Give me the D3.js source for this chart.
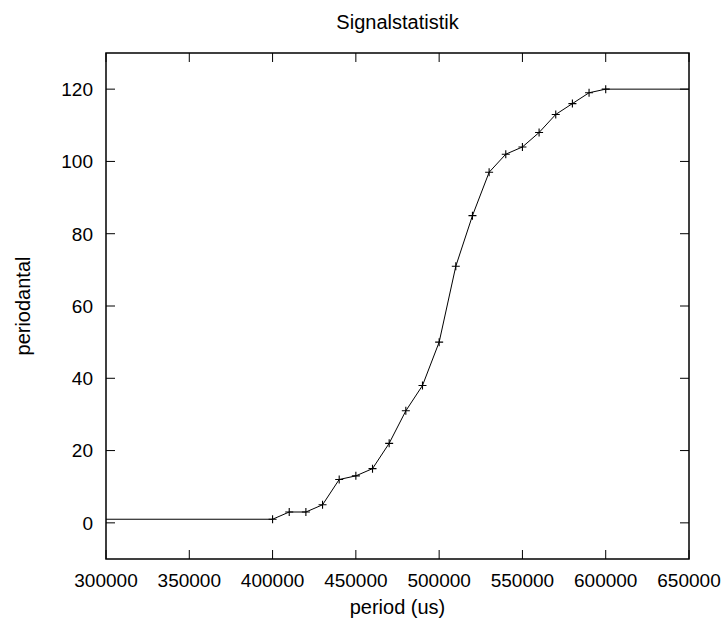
<!DOCTYPE html>
<html>
<head>
<meta charset="utf-8">
<script src="https://cdn.jsdelivr.net/npm/d3@7"></script>
<style>
  html, body { margin: 0; padding: 0; background: #fff; }
  svg { display: block; overflow: visible; }
  text { font-family: "Liberation Sans", Arial, Helvetica, sans-serif; fill: #000; }
</style>
</head>
<body>
<svg id="chart" width="724" height="621"></svg>
<script>
// Measured periods (us) and cumulative period counts
const periods = [400000, 410000, 420000, 430000, 440000, 450000, 460000, 470000, 480000, 490000,
                 500000, 510000, 520000, 530000, 540000, 550000, 560000, 570000, 580000, 590000, 600000];
const counts  = [1, 3, 3, 5, 12, 13, 15, 22, 31, 38,
                 50, 71, 85, 97, 102, 104, 108, 113, 116, 119, 120];
const xTicks = [300000, 350000, 400000, 450000, 500000, 550000, 600000, 650000];
const yTicks = [0, 20, 40, 60, 80, 100, 120];
const xDomain = [300000, 650000];
const yDomain = [-10, 130];

const svg = d3.select("#chart");
const plotL = 106, plotR = 689, plotT = 53, plotB = 559;

const x = d3.scaleLinear().domain(xDomain).range([plotL, plotR]);
const y = d3.scaleLinear().domain(yDomain).range([plotB, plotT]);

const tickLen = 9;
const fs = 19;

// Ticks on all four sides, pointing inward
const g = svg.append("g").attr("stroke", "#000").attr("stroke-width", 1);
xTicks.forEach(v => {
  g.append("line").attr("x1", x(v)).attr("x2", x(v)).attr("y1", plotB).attr("y2", plotB - tickLen);
  g.append("line").attr("x1", x(v)).attr("x2", x(v)).attr("y1", plotT).attr("y2", plotT + tickLen);
});
yTicks.forEach(v => {
  g.append("line").attr("x1", plotL).attr("x2", plotL + tickLen).attr("y1", y(v)).attr("y2", y(v));
  g.append("line").attr("x1", plotR).attr("x2", plotR - tickLen).attr("y1", y(v)).attr("y2", y(v));
});

// Tick labels
svg.append("g").selectAll("text").data(xTicks).join("text")
  .attr("x", d => x(d)).attr("y", plotB + 28)
  .attr("text-anchor", "middle").attr("font-size", fs)
  .text(d => d);
svg.append("g").selectAll("text").data(yTicks).join("text")
  .attr("x", plotL - 13).attr("y", d => y(d)).attr("dy", "0.36em")
  .attr("text-anchor", "end").attr("font-size", fs)
  .text(d => d);

// Curve: flat tails out to the plot edges, then the measured points
const pts = periods.map((p, i) => [p, counts[i]]);
const full = [[xDomain[0], counts[0]], ...pts, [xDomain[1], counts[counts.length - 1]]];
const line = d3.line().x(d => x(d[0])).y(d => y(d[1]));
svg.append("path").datum(full)
  .attr("d", line).attr("fill", "none").attr("stroke", "#000").attr("stroke-width", 1);

// "+" point markers
const ms = 4;
svg.append("g").attr("stroke", "#000").attr("stroke-width", 1.1)
  .selectAll("path").data(pts).join("path")
  .attr("d", d => {
    const cx = x(d[0]), cy = y(d[1]);
    return `M${cx - ms},${cy}H${cx + ms}M${cx},${cy - ms}V${cy + ms}`;
  });

// Border
svg.append("rect").attr("x", plotL).attr("y", plotT)
  .attr("width", plotR - plotL).attr("height", plotB - plotT)
  .attr("fill", "none").attr("stroke", "#000").attr("stroke-width", 1.5);

// Titles
svg.append("text").attr("x", (plotL + plotR) / 2).attr("y", 29)
  .attr("text-anchor", "middle").attr("font-size", 20).text("Signalstatistik");
svg.append("text").attr("x", (plotL + plotR) / 2).attr("y", 614)
  .attr("text-anchor", "middle").attr("font-size", 20).text("period (us)");
svg.append("text")
  .attr("transform", `translate(30,${(plotT + plotB) / 2}) rotate(-90)`)
  .attr("text-anchor", "middle").attr("font-size", 20).text("periodantal");
</script>
</body>
</html>
